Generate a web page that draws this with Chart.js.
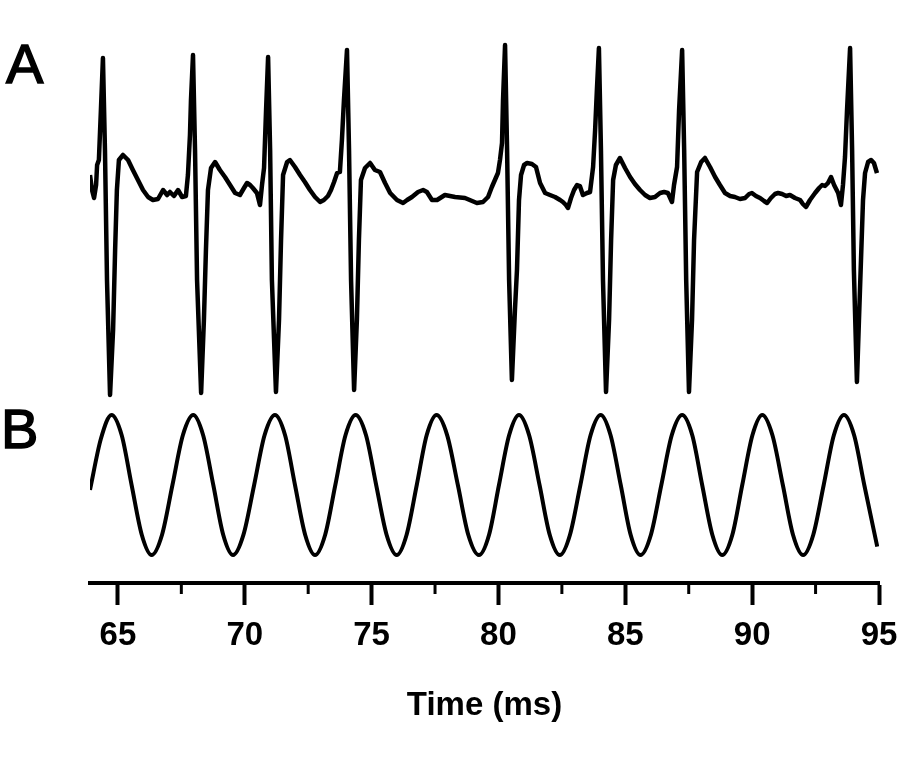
<!DOCTYPE html>
<html>
<head>
<meta charset="utf-8">
<script src="https://cdn.jsdelivr.net/npm/chart.js@4"></script>
<style>
  body { margin: 0; background: #fff; }
  #wrap { width: 917px; height: 758px; }
</style>
</head>
<body>
<div id="wrap"><canvas id="ecgChart" width="917" height="758"></canvas></div>
<script>
// Trace A: recorded signal (time in ms, amplitude in arbitrary units, baseline = 0)
const timeA = [
  63.90, 63.98, 64.06, 64.14, 64.18, 64.25, 64.33, 64.41, 64.49, 64.57, 64.69, 64.81, 64.89, 64.96, 65.04,
  65.20, 65.40, 65.59, 65.79, 65.99, 66.19, 66.38, 66.58, 66.78, 66.94, 67.05, 67.21, 67.37, 67.53, 67.68,
  67.76, 67.84, 67.88, 67.96, 68.04, 68.12, 68.28, 68.39, 68.47, 68.55, 68.67, 68.83, 69.02, 69.22, 69.42,
  69.62, 69.81, 69.97, 70.09, 70.21, 70.32, 70.48, 70.60, 70.68, 70.76, 70.84, 70.92, 71.00, 71.07, 71.23,
  71.35, 71.43, 71.51, 71.67, 71.78, 71.98, 72.18, 72.37, 72.57, 72.77, 72.97, 73.12, 73.28, 73.40, 73.52,
  73.64, 73.75, 73.83, 73.91, 74.03, 74.11, 74.19, 74.31, 74.42, 74.50, 74.58, 74.74, 74.94, 75.13,
  75.33, 75.53, 75.73, 76.00, 76.24, 76.40, 76.59, 76.83, 77.03, 77.18, 77.38, 77.58, 77.89,
  78.29, 78.68, 79.15, 79.39, 79.59, 79.74, 79.86, 79.98, 80.06, 80.14, 80.18, 80.26,
  80.34, 80.42, 80.53, 80.65, 80.73, 80.81, 80.89, 81.01, 81.13, 81.32, 81.48, 81.64, 81.84, 82.03, 82.23,
  82.43, 82.54, 82.66, 82.74, 82.86, 82.98, 83.10, 83.21, 83.33, 83.49, 83.61, 83.73, 83.81, 83.88, 83.96,
  84.04, 84.12, 84.24, 84.36, 84.44, 84.52, 84.63, 84.79, 84.99, 85.19, 85.38, 85.58, 85.78, 85.97, 86.17,
  86.37, 86.53, 86.68, 86.84, 86.92, 87.04, 87.12, 87.24, 87.32, 87.40, 87.51, 87.63, 87.71, 87.83, 87.99,
  88.14, 88.34, 88.54, 88.73, 88.93, 89.13, 89.32, 89.52, 89.72, 89.88, 89.99, 90.15, 90.31, 90.47, 90.59,
  90.74, 90.90, 91.02, 91.18, 91.34, 91.49, 91.69, 91.89, 92.00, 92.12, 92.28, 92.48, 92.64, 92.76, 92.87,
  92.99, 93.11, 93.23, 93.39, 93.50, 93.58, 93.66, 93.74, 93.86, 93.94, 94.01, 94.13, 94.21, 94.29, 94.37,
  94.45, 94.57, 94.69, 94.80, 94.92
];
const valueA = [
  0.22, 0.07, -0.01, 0.12, 0.32, 0.37, 0.87, 1.39, 0.47, -0.83, -1.98, -1.33, -0.53, 0.07, 0.37,
  0.42, 0.37, 0.27, 0.17, 0.07, 0.00, -0.03, -0.02, 0.07, 0.02, 0.05, 0.01, 0.07, 0.00, 0.01,
  0.22, 0.62, 0.97, 1.42, 0.47, -0.83, -1.96, -1.23, -0.53, 0.07, 0.29, 0.35, 0.27, 0.20, 0.12,
  0.04, 0.02, 0.09, 0.14, 0.12, 0.09, 0.04, -0.08, 0.12, 0.29, 0.87, 1.40, 0.47, -0.83, -1.95,
  -1.23, -0.43, 0.22, 0.35, 0.37, 0.30, 0.22, 0.15, 0.07, 0.00, -0.05, -0.03, 0.01, 0.07, 0.15,
  0.24, 0.25, 0.57, 0.97, 1.47, 0.47, -0.83, -1.93, -1.23, -0.43, 0.17, 0.29, 0.34, 0.27,
  0.25, 0.14, 0.04, -0.03, -0.06, -0.03, 0.00, 0.05, 0.07, 0.05, -0.03, -0.03, 0.02,
  0.00, -0.01, -0.06, -0.05, 0.00, 0.10, 0.17, 0.24, 0.37, 0.54, 0.97, 1.52,
  0.47, -0.83, -1.83, -1.13, -0.73, -0.03, 0.22, 0.32, 0.34, 0.33, 0.30, 0.14, 0.04, 0.02, 0.00,
  -0.03, -0.05, -0.08, -0.11, -0.01, 0.07, 0.12, 0.11, 0.02, 0.04, 0.05, 0.30, 0.67, 1.07, 1.49,
  0.47, -0.83, -1.95, -1.23, -0.43, 0.17, 0.32, 0.39, 0.29, 0.20, 0.13, 0.07, 0.02, -0.01, 0.00,
  0.04, 0.05, 0.04, -0.05, 0.12, 0.30, 0.87, 1.47, 0.47, -0.83, -1.95, -1.23, -0.43, 0.25, 0.35,
  0.39, 0.30, 0.20, 0.12, 0.04, 0.01, 0.00, -0.02, -0.01, 0.03, 0.04, 0.01, -0.01, -0.04, -0.06,
  -0.01, 0.03, 0.04, 0.03, 0.01, 0.02, -0.01, -0.03, -0.07, -0.10, -0.03, 0.04, 0.09, 0.12, 0.11,
  0.14, 0.20, 0.12, 0.04, -0.08, 0.12, 0.40, 0.87, 1.49, 0.47, -0.73, -1.85, -1.23, -0.63, -0.03,
  0.24, 0.35, 0.37, 0.34, 0.24
];

// Trace B: sinusoidal reference (read at peaks, troughs, crossings and half-way points)
const timeB = [
  63.90, 64.33, 64.75, 65.15, 65.54, 65.94, 66.33, 66.74, 67.15, 67.56, 67.97, 68.36, 68.76, 69.15,
  69.54, 69.95, 70.37, 70.78, 71.19, 71.59, 71.98, 72.38, 72.77, 73.17, 73.57, 73.97, 74.37, 74.78,
  75.18, 75.59, 75.99, 76.38, 76.78, 77.17, 77.56, 77.98, 78.40, 78.81, 79.23, 79.63, 80.02, 80.42,
  80.81, 81.21, 81.62, 82.02, 82.42, 82.82, 83.23, 83.63, 84.03, 84.42, 84.82, 85.21, 85.60, 86.01,
  86.42, 86.83, 87.24, 87.64, 88.03, 88.43, 88.82, 89.22, 89.61, 90.01, 90.40, 90.80, 91.21, 91.61,
  92.01, 92.41, 92.82, 93.22, 93.62, 94.02, 94.42, 94.93
];
const valueB = [
  -0.07, 0.66, 1, 0.71, 0, -0.71, -1, -0.71, 0, 0.71, 1, 0.71, 0, -0.71,
  -1, -0.71, 0, 0.71, 1, 0.71, 0, -0.71, -1, -0.71, 0, 0.71, 1, 0.71,
  0, -0.71, -1, -0.71, 0, 0.71, 1, 0.71, 0, -0.71, -1, -0.71, 0, 0.71,
  1, 0.71, 0, -0.71, -1, -0.71, 0, 0.71, 1, 0.71, 0, -0.71, -1, -0.71,
  0, 0.71, 1, 0.71, 0, -0.71, -1, -0.71, 0, 0.71, 1, 0.71, 0, -0.71,
  -1, -0.71, 0, 0.71, 1, 0.71, 0, -0.88
];

// Axis ticks
const majorTicks = [65, 70, 75, 80, 85, 90, 95];
const minorTicks = [67.5, 72.5, 77.5, 82.5, 87.5, 92.5];
const panelLabels = ["A", "B"];

// draw short minor ticks under the axis line
const minorTickPlugin = {
  id: "minorTicks",
  afterDraw(chart) {
    const ctx = chart.ctx;
    const xs = chart.scales.x;
    ctx.save();
    ctx.strokeStyle = "#000";
    ctx.lineWidth = 3;
    minorTicks.forEach((v) => {
      const px = xs.getPixelForValue(v);
      ctx.beginPath();
      ctx.moveTo(px, xs.top);
      ctx.lineTo(px, xs.top + 11);
      ctx.stroke();
    });
    ctx.restore();
  },
};

// panel letters A / B (slight stroke to match the heavier print)
const panelLabelPlugin = {
  id: "panelLabels",
  afterDraw(chart) {
    const ctx = chart.ctx;
    ctx.save();
    ctx.fillStyle = "#000";
    ctx.strokeStyle = "#000";
    ctx.lineWidth = 1.5;
    ctx.font = "56px 'Liberation Sans', Arial, sans-serif";
    ctx.textBaseline = "alphabetic";
    ctx.textAlign = "left";
    ctx.fillText(panelLabels[0], 6, 83);
    ctx.strokeText(panelLabels[0], 6, 83);
    ctx.fillText(panelLabels[1], 1, 448);
    ctx.strokeText(panelLabels[1], 1, 448);
    ctx.restore();
  },
};

function makePoints(xs, ys) {
  return xs.map((t, i) => ({ x: t, y: ys[i] }));
}

const chart = new Chart(document.getElementById("ecgChart"), {
  type: "line",
  data: {
    datasets: [
      {
        label: "A",
        data: makePoints(timeA, valueA),
        yAxisID: "yA",
        borderColor: "#000",
        borderWidth: 4.5,
        pointRadius: 0,
        tension: 0,
        borderJoinStyle: "round",
      },
      {
        label: "B",
        data: makePoints(timeB, valueB),
        yAxisID: "yB",
        borderColor: "#000",
        borderWidth: 4,
        pointRadius: 0,
        cubicInterpolationMode: "monotone",
      },
    ],
  },
  options: {
    responsive: false,
    devicePixelRatio: 1,
    animation: false,
    layout: { padding: { left: 90, right: 38, top: 40, bottom: 0 } },
    plugins: { legend: { display: false }, tooltip: { enabled: false } },
    scales: {
      x: {
        type: "linear",
        position: "bottom",
        min: 63.9,
        max: 95,
        afterBuildTicks: (axis) => {
          axis.ticks = majorTicks.map((v) => ({ value: v }));
        },
        afterFit: (axis) => {
          axis.height = 758 - 583;
        },
        border: { display: true, color: "#000", width: 4 },
        grid: {
          drawOnChartArea: false,
          drawTicks: true,
          tickLength: 22,
          tickWidth: 4,
          tickColor: "#000",
        },
        ticks: {
          color: "#000",
          padding: 11,
          maxRotation: 0,
          font: { family: "'Liberation Sans', Arial, sans-serif", size: 33, weight: "bold" },
        },
        title: {
          display: true,
          text: "Time (ms)",
          color: "#000",
          padding: { top: 0, bottom: 32 },
          font: { family: "'Liberation Sans', Arial, sans-serif", size: 33, weight: "bold" },
        },
      },
      yA: { type: "linear", display: false, min: -3.86, max: 1.57 },
      yB: { type: "linear", display: false, min: -1.4, max: 6.357 },
    },
  },
  plugins: [minorTickPlugin, panelLabelPlugin],
});
</script>
</body>
</html>
